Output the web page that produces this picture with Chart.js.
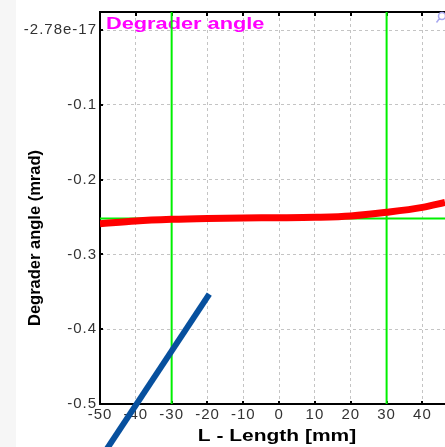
<!DOCTYPE html>
<html lang="en">
<head>
<meta charset="UTF-8">
<title>Degrader angle</title>
<script src="https://cdn.jsdelivr.net/npm/chart.js"></script>
<style>
  html, body { margin: 0; padding: 0; background: #fff; }
  #wrap { position: relative; width: 445px; height: 447px; }
</style>
</head>
<body>
<div id="wrap"><canvas id="chart"></canvas></div>
<script>
// degrader angle along the length
const lengthMm = [-50, -40, -30, -20, -10, 0, 10, 20, 30, 40, 46.3];
const angleMrad = [-0.2590, -0.2551, -0.2529, -0.2517, -0.2511, -0.2508, -0.2502, -0.2485, -0.2436, -0.2370, -0.2304];

// straight line (blue)
const lineX = [-19.5, -50];
const lineY = [-0.353, -0.574];

// green markers
const markerX = [-30, 30];
const markerY = -0.252;

// axes
const xTicks = [-50, -40, -30, -20, -10, 0, 10, 20, 30, 40];
const yTicks = [-0.5, -0.4, -0.3, -0.2, -0.1, 0];
const yTickLabels = ['-0.5', '-0.4', '-0.3', '-0.2', '-0.1', '-2.78e-17'];
const xRange = [-50, 46.3];
const yRange = [-0.5, 0.0244];

const pts = (xs, ys) => xs.map((x, i) => ({ x: x, y: ys[i] }));

const green = '#00f000';
const datasets = [
  {
    data: pts(lengthMm, angleMrad),
    borderColor: '#ff0000',
    borderWidth: 7,
    cubicInterpolationMode: 'monotone',
  },
  {
    data: pts(lineX, lineY),
    borderColor: '#07509e',
    borderWidth: 6,
    clip: false,
  },
  {
    data: pts([markerX[0], markerX[0]], yRange),
    borderColor: green,
    borderWidth: 2,
  },
  {
    data: pts([markerX[1], markerX[1]], yRange),
    borderColor: green,
    borderWidth: 2,
  },
  {
    data: pts(xRange, [markerY, markerY]),
    borderColor: green,
    borderWidth: 2,
  },
];

const FONT = '"Liberation Sans", Arial, sans-serif';

// text drawn a bit wider than the plain font
function wideText(ctx, text, x, y, stretch, align) {
  ctx.save();
  const w = ctx.measureText(text).width * stretch;
  const x0 = align === 'center' ? x - w / 2 : x;
  ctx.translate(x0, y);
  ctx.scale(stretch, 1);
  ctx.textAlign = 'left';
  ctx.fillText(text, 0, 0);
  ctx.restore();
}

// frame, inner ticks and the extra labels
const frame = {
  id: 'frame',
  beforeDraw(chart) {
    const ctx = chart.ctx;
    ctx.save();
    ctx.fillStyle = '#fff';
    ctx.fillRect(0, 0, chart.width, chart.height);
    ctx.fillStyle = '#f6f6f6';
    ctx.fillRect(0, 0, 16, chart.height);
    ctx.restore();
    ctx.letterSpacing = '1px';
  },
  beforeDatasetsDraw(chart) {
    const { ctx, chartArea: a, scales } = chart;
    ctx.save();
    ctx.letterSpacing = '0px';
    ctx.fillStyle = '#ff00ff';
    ctx.font = 'bold 16px ' + FONT;
    ctx.textBaseline = 'alphabetic';
    wideText(ctx, 'Degrader angle', a.left + 6, a.top + 17, 1.36, 'left');

    ctx.strokeStyle = '#000';
    ctx.lineWidth = 2;
    ctx.beginPath();
    ctx.moveTo(a.left - 1, a.top);
    ctx.lineTo(a.right, a.top);
    xTicks.forEach(v => {
      const x = Math.round(scales.x.getPixelForValue(v));
      ctx.moveTo(x, a.top);
      ctx.lineTo(x, a.top + 4);
      ctx.moveTo(x, a.bottom);
      ctx.lineTo(x, a.bottom - 3);
    });
    yTicks.forEach(v => {
      const y = Math.round(scales.y.getPixelForValue(v));
      ctx.moveTo(a.left, y);
      ctx.lineTo(a.left + 3, y);
    });
    ctx.stroke();
    ctx.restore();
  },
  afterDraw(chart) {
    const { ctx, chartArea: a } = chart;
    ctx.letterSpacing = '0px';

    // x axis title
    ctx.save();
    ctx.fillStyle = '#000';
    ctx.font = 'bold 16px ' + FONT;
    ctx.textBaseline = 'alphabetic';
    wideText(ctx, 'L - Length [mm]', 277, 441, 1.31, 'center');
    ctx.restore();

    // y axis title
    ctx.save();
    ctx.translate(35, 238);
    ctx.rotate(-Math.PI / 2);
    ctx.fillStyle = '#000';
    ctx.font = 'bold 16.5px ' + FONT;
    ctx.textAlign = 'center';
    ctx.textBaseline = 'middle';
    ctx.fillText('Degrader angle (mrad)', 0, 0);
    ctx.restore();

    // zoom glyph in the corner
    ctx.save();
    ctx.strokeStyle = '#a8a8f0';
    ctx.lineWidth = 1.5;
    ctx.beginPath();
    ctx.arc(442, 16, 3.5, 0, Math.PI * 2);
    ctx.moveTo(439.5, 18.5);
    ctx.lineTo(436.5, 22.5);
    ctx.stroke();
    ctx.restore();
  }
};

const tickFont = { family: FONT, size: 15 };

new Chart(document.getElementById('chart'), {
  type: 'scatter',
  data: { datasets: datasets },
  options: {
    responsive: true,
    maintainAspectRatio: false,
    animation: false,
    showLine: true,
    elements: { point: { radius: 0, hoverRadius: 0 }, line: { fill: false } },
    layout: { padding: { top: 10, left: 0, right: 0, bottom: 0 } },
    plugins: { legend: { display: false }, tooltip: { enabled: false } },
    scales: {
      x: {
        type: 'linear',
        min: xRange[0],
        max: xRange[1],
        afterBuildTicks: s => { s.ticks = xTicks.map(v => ({ value: v })); },
        afterFit: s => { s.height = 43; },
        grid: { color: '#c4c4c4', lineWidth: 1, drawTicks: false },
        border: { display: true, color: '#000', width: 2, dash: [3, 3] },
        ticks: { color: '#333', font: tickFont, padding: 2, maxRotation: 0, autoSkip: false }
      },
      y: {
        type: 'linear',
        min: yRange[0],
        max: yRange[1],
        afterBuildTicks: s => { s.ticks = yTicks.map(v => ({ value: v })); },
        afterFit: s => { s.width = 100; },
        grid: { color: '#c4c4c4', lineWidth: 1, drawTicks: false },
        border: { display: true, color: '#000', width: 2, dash: [3, 3] },
        ticks: {
          color: '#333',
          font: tickFont,
          padding: 3,
          callback: (v, i) => yTickLabels[i]
        }
      }
    }
  },
  plugins: [frame]
});
</script>
</body>
</html>
